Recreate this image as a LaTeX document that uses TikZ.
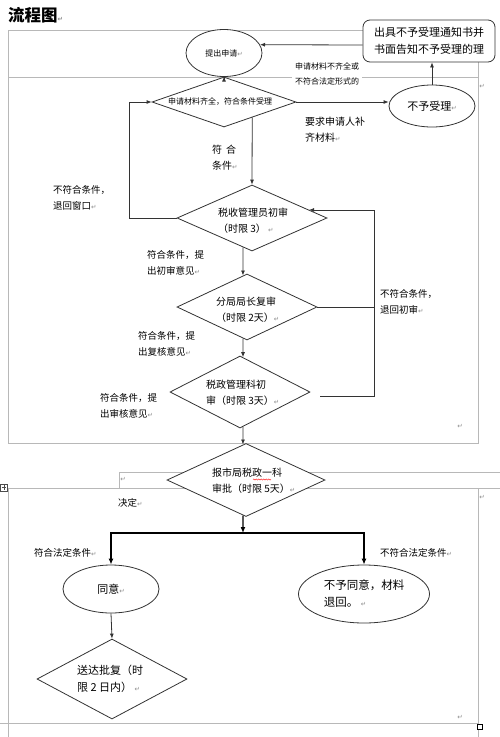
\documentclass[tikz,border=0pt]{standalone}
\usepackage{fontspec}
\setmainfont{Noto Sans CJK SC}
\newfontfamily\symfont{DejaVu Sans}
\usetikzlibrary{shapes.geometric,arrows.meta,calc,decorations.pathmorphing}
\newcommand\retmark{{\symfont\fontsize{6.5}{6.5}\selectfont\textcolor{black!45}{↵}}}
\begin{document}
\begin{tikzpicture}[x=1pt,y=-1pt,
  tbl/.style={draw=black!28, line width=0.8pt},
  flow/.style={draw=black!80, line width=0.8pt},
  arr/.style={flow,-{Latex[length=5pt,width=4pt]}},
  barr/.style={draw=black, line width=1.3pt, -{Latex[length=6pt,width=5pt]}},
  dia/.style={diamond, draw=black!80, fill=white, line width=0.8pt, inner sep=0pt},
  ell/.style={ellipse, draw=black!80, fill=white, line width=0.8pt, inner sep=0pt},
  lbl/.style={inner sep=0pt, align=left, anchor=west, font=\fontsize{9.5}{16}\selectfont},
  dtxt/.style={inner sep=0pt, align=left, anchor=west, font=\fontsize{10}{16}\selectfont},
  lone/.style={inner sep=0pt},
]
\useasboundingbox (0,0) rectangle (500,737);
\fill[white] (0,0) rectangle (500,737);

% title
\node[anchor=west, inner sep=0pt, font=\fontsize{16.5}{16.5}\selectfont\bfseries] (title) at (8,15) {流程图\retmark};

% table borders (gray)
\draw[tbl] (8,30) rectangle (478,443);
\draw[tbl] (8,77) -- (478,77);
\draw[tbl] (119,472) -- (500,472);
\draw[tbl] (119,472) -- (119,488);
\draw[tbl] (7,488) -- (500,488);
\draw[tbl] (8,488) -- (8,737);
\draw[tbl] (478,488) -- (478,737);
\draw[tbl] (0,723) -- (478,723);
\draw[black, line width=0.8pt, fill=white] (477,724) rectangle (482,729);
\draw[black!70, line width=0.6pt, fill=white] (0.5,484) rectangle (7,491);
\draw[black!70, line width=0.5pt] (3.75,485) -- (3.75,490) (1.5,487.5) -- (6,487.5);

% shapes
\node[ell, minimum width=76pt, minimum height=47pt, font=\fontsize{8}{8}\selectfont] (E1) at (224,53) {提出申请\retmark};
\node[dia, minimum width=144pt, minimum height=50pt] (D1) at (224,102) {};
\node[inner sep=0pt, font=\fontsize{8}{8}\selectfont] (D1t) at (220,102) {申请材料齐全，符合条件受理};
\node[ell, minimum width=86pt, minimum height=42pt, font=\fontsize{11}{11}\selectfont] (E2) at (432,106) {不予受理\retmark};
\node[draw=black!80, fill=white, rounded corners=7pt, line width=0.8pt, minimum width=132pt, minimum height=42pt, align=left, inner sep=0pt, font=\fontsize{11}{17}\selectfont] (R) at (429,41) {出具不予受理通知书并\\书面告知不予受理的理};

\node[dia, minimum width=150pt, minimum height=66pt] (D2) at (252,218) {};
\node[dtxt] (D2t) at (218,220.5) {税收管理员初审\\（时限 3） \retmark};
\node[dia, minimum width=140pt, minimum height=66pt] (D3) at (247,307) {};
\node[dtxt] (D3t) at (216,309.5) {分局局长复审\\（时限 2天）\retmark};
\node[dia, minimum width=140pt, minimum height=72pt] (D4) at (240,392) {};
\node[dtxt] (D4t) at (206,393) {税政管理科初\\审（时限 3天）\retmark};
\node[dia, minimum width=158pt, minimum height=73pt] (D5) at (246,480) {};
\node[dtxt] (D5t) at (212,480.5) {报市局税政一科\\审批（时限 5天）\retmark};
\draw[red, line width=0.4pt, decorate, decoration={snake, amplitude=0.6pt, segment length=2.5pt}] (253,479.5) -- (271,479.5);

\node[ell, minimum width=96pt, minimum height=48pt, font=\fontsize{11}{11}\selectfont] (E3) at (111,589) {同意\retmark};
\node[ell, minimum width=131pt, minimum height=58pt, align=left, font=\fontsize{11.5}{17}\selectfont] (E4) at (364,594) {不予同意，材料\\退回。 \retmark};
\node[dia, minimum width=150pt, minimum height=80pt] (D6) at (112,679) {};
\node[inner sep=0pt, align=left, anchor=west, font=\fontsize{11}{17}\selectfont] (D6t) at (77,678.5) {送达批复（时\\限 2 日内） \retmark};

% connectors (upper)
\draw[arr] (E1.south) -- (D1.north);
\draw[arr] (D1.east) -- (D1.east -| E2.west);
\draw[arr] (E2.north) -- (E2.north |- R.south);
\draw[arr] ([yshift=-4pt]R.west) -- (E1.13);
\draw[arr] ($(D1.south)!0.39!(D1.east)$) -- (D2.north);
\draw[arr] (D2.west) -- ++(-47,0) |- (D1.west);
\draw[arr] ($(D2.south)!0.12!(D2.west)$) -- ($(D3.north)!0.057!(D3.west)$);
\draw[arr] ($(D3.south)!0.057!(D3.west)$) -- ($(D4.north)!0.043!(D4.east)$);
\draw[arr] ($(D4.south)!0.043!(D4.east)$) -- ($(D5.north)!0.038!(D5.west)$);
\draw[flow] (D3.east) -- ++(57,0);
\draw[arr] ([xshift=10pt,yshift=-4pt]D4.east) -- ++(54,0) |- ($(D2.north)!0.758!(D2.east)$);

% connectors (lower)
\coordinate (J) at (243,533);
\draw[barr] ($(D5.south)!0.038!(D5.west)$) -- (J);
\draw[barr] (J) -| (E3.north);
\draw[barr] (J) -| (E4.north);
\draw[arr] (E3.south) -- (D6.north);

% labels
\node[inner xsep=3pt, inner ysep=1pt, fill=white, align=center, font=\fontsize{8}{15}\selectfont] (L0) at (327,73.5) {申请材料不齐全或\\不符合法定形式的};
\node[lbl, font=\fontsize{10}{16}\selectfont] (L1) at (305,130) {要求申请人补\\齐材料\retmark};
\node[lbl, font=\fontsize{10}{16}\selectfont] (L2) at (212,157.5) {符\hspace{4pt}合\\条件\retmark};
\node[lbl] (L3) at (53,198) {不符合条件，\\退回窗口\retmark};
\node[lbl] (L4) at (147,263) {符合条件，提\\出初审意见\retmark};
\node[lbl] (L5) at (138,344) {符合条件，提\\出复核意见\retmark};
\node[lbl] (L6) at (100,406) {符合条件，提\\出审核意见\retmark};
\node[lbl] (L7) at (380,301.5) {不符合条件，\\退回初审\retmark};
\node[lbl] (L8) at (118,503) {决定\retmark};
\node[lbl] (L9) at (34,553) {符合法定条件\retmark};
\node[lbl] (L10) at (380,553) {不符合法定条件\retmark};

% stray paragraph marks
\node[lone] (p1) at (482,86) {\retmark};
\node[lone] (p2) at (460,426) {\retmark};
\node[lone] (p3) at (123,479) {\retmark};
\node[lone] (p4) at (482,497) {\retmark};
\node[lone] (p5) at (460,717) {\retmark};
\end{tikzpicture}
\end{document}
